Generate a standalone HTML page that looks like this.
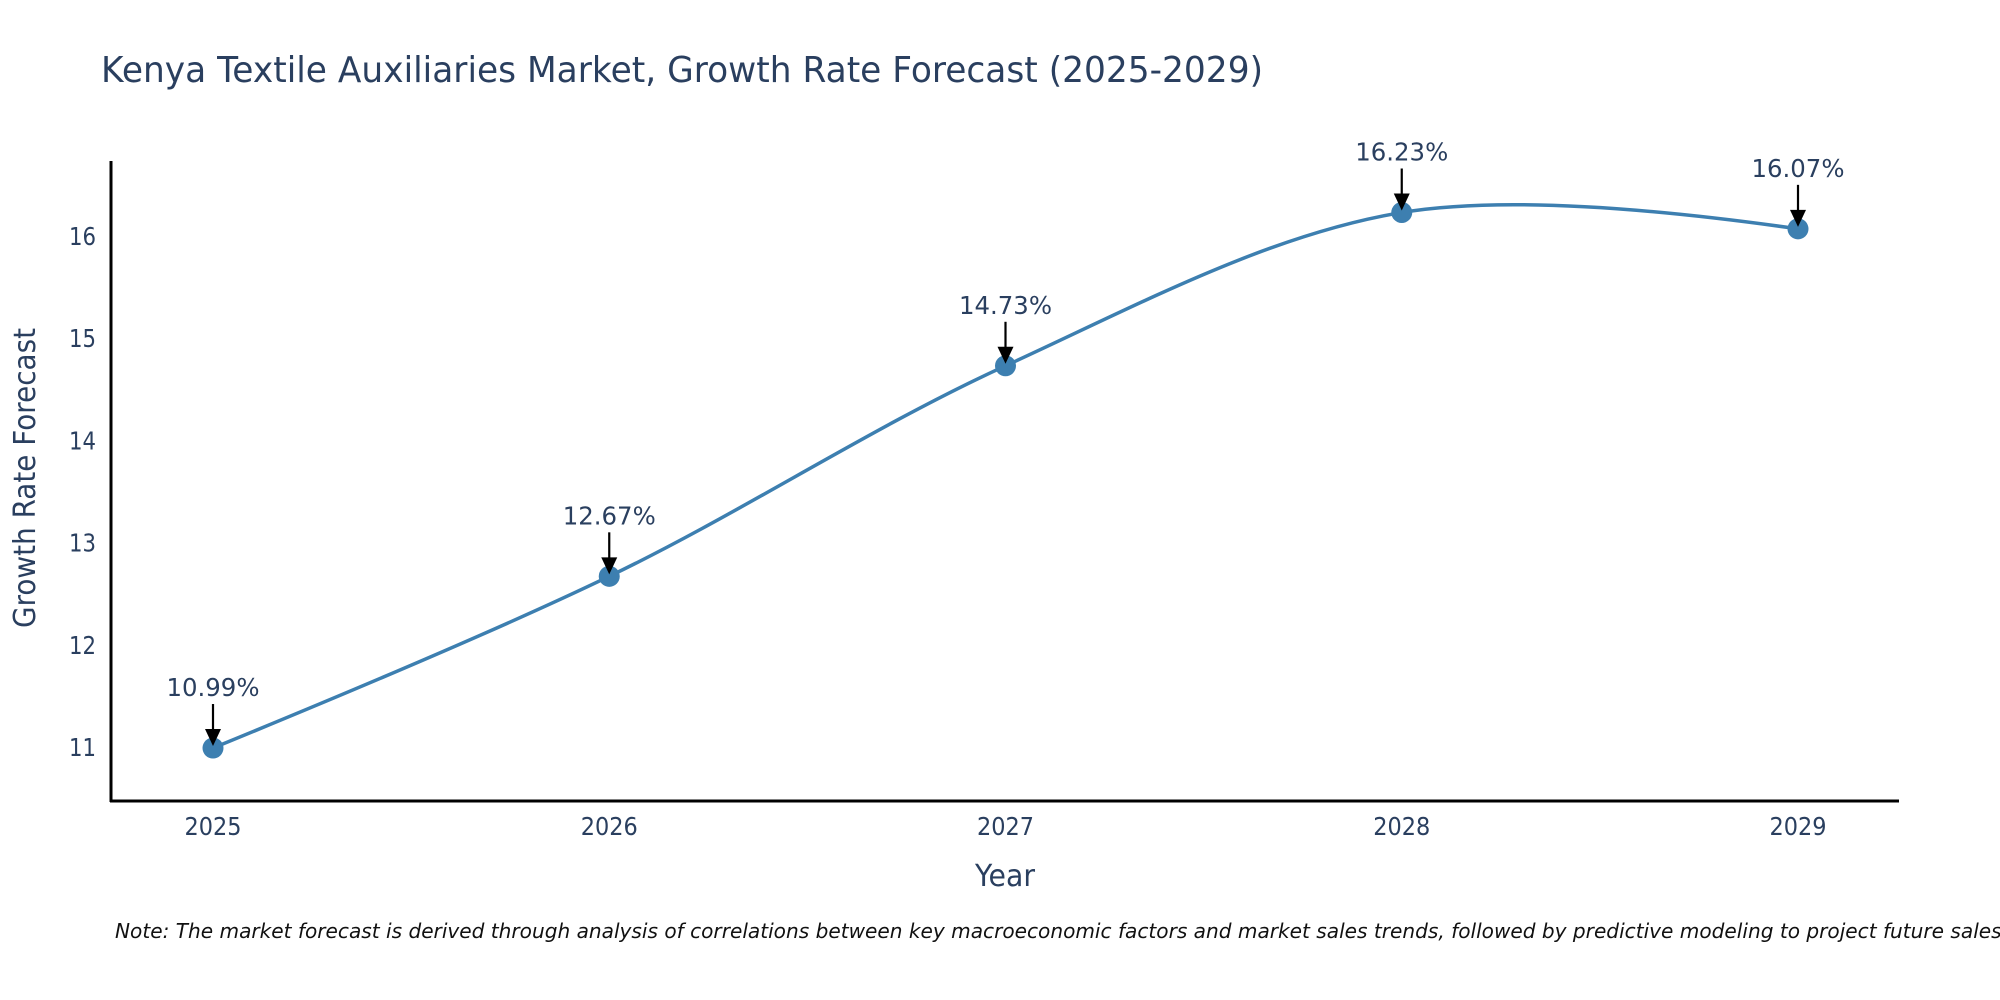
<!DOCTYPE html>
<html><head><meta charset="utf-8"><style>
html,body{margin:0;padding:0;background:#fff;}
svg{display:block;}
</style></head><body>
<svg id="chart" width="2000" height="1000" xmlns="http://www.w3.org/2000/svg">
<rect width="2000" height="1000" fill="#fff"/>
<text x="101" y="82" font-family="DejaVu Sans, sans-serif" font-size="36" fill="#2a3f5f" textLength="1162" lengthAdjust="spacingAndGlyphs">Kenya Textile Auxiliaries Market, Growth Rate Forecast (2025-2029)</text>
<g id="yticks"></g>
<g id="xticks"></g>
<line x1="111" y1="161" x2="111" y2="802" stroke="#000" stroke-width="3"/>
<line x1="110" y1="801" x2="1899" y2="801" stroke="#000" stroke-width="3"/>
<text transform="translate(35,478) rotate(-90)" text-anchor="middle" font-family="DejaVu Sans, sans-serif" font-size="30" fill="#2a3f5f" textLength="300" lengthAdjust="spacingAndGlyphs">Growth Rate Forecast</text>
<text x="1005" y="886" text-anchor="middle" font-family="DejaVu Sans, sans-serif" font-size="30" fill="#2a3f5f" textLength="60" lengthAdjust="spacingAndGlyphs">Year</text>
<path id="line" fill="none" stroke="#3d7fb0" stroke-width="3.5"/>
<g id="marks"></g>
<text x="115" y="938" font-family="DejaVu Sans, sans-serif" font-style="italic" font-size="20" fill="#111" textLength="1893" lengthAdjust="spacingAndGlyphs">Note: The market forecast is derived through analysis of correlations between key macroeconomic factors and market sales trends, followed by predictive modeling to project future sales.</text>
</svg>
<script>
const years = [2025, 2026, 2027, 2028, 2029];
const values = [10.99, 12.67, 14.73, 16.23, 16.07];
const labels = ["10.99%", "12.67%", "14.73%", "16.23%", "16.07%"];
const yTicks = [11, 12, 13, 14, 15, 16];

const NS = "http://www.w3.org/2000/svg";
const xScale = y => 213 + (y - 2025) * 396.25;
const yScale = v => 747 - (v - 11) * 102.2;
function mk(tag, attrs, parent) {
  const e = document.createElementNS(NS, tag);
  for (const k in attrs) e.setAttribute(k, attrs[k]);
  parent.appendChild(e);
  return e;
}
const yt = document.getElementById('yticks');
yTicks.forEach(t => {
  const e = mk('text', {x: 96, y: yScale(t) + 9, 'text-anchor': 'end', 'font-family': 'DejaVu Sans, sans-serif', 'font-size': 25, fill: '#2a3f5f', textLength: 27, lengthAdjust: 'spacingAndGlyphs'}, yt);
  
  
  e.textContent = t;
});
const xt = document.getElementById('xticks');
years.forEach(y => {
  const e = mk('text', {x: xScale(y), y: 835, 'text-anchor': 'middle', 'font-family': 'DejaVu Sans, sans-serif', 'font-size': 25, fill: '#2a3f5f', textLength: 57, lengthAdjust: 'spacingAndGlyphs'}, xt);
  
  
  e.textContent = y;
});
const pts = years.map((y, i) => [xScale(y), yScale(values[i])]);
function tangent(p0, p1, p2, s) {
  const d1x = p0[0]-p1[0], d1y = p0[1]-p1[1], d2x = p2[0]-p1[0], d2y = p2[1]-p1[1];
  const d1a = Math.pow(d1x*d1x+d1y*d1y, 0.25), d2a = Math.pow(d2x*d2x+d2y*d2y, 0.25);
  const nx = (d2a*d2a*d1x - d1a*d1a*d2x)*s, ny = (d2a*d2a*d1y - d1a*d1a*d2y)*s;
  const den1 = 3*d2a*(d1a+d2a), den2 = 3*d1a*(d1a+d2a);
  return [[p1[0]+nx/den1, p1[1]+ny/den1], [p1[0]-nx/den2, p1[1]-ny/den2]];
}
const tg = [];
for (let i = 1; i < pts.length - 1; i++) tg.push(tangent(pts[i-1], pts[i], pts[i+1], 1));
let d = 'M' + pts[0] + 'Q' + tg[0][0] + ' ' + pts[1];
for (let i = 2; i < pts.length - 1; i++) d += 'C' + tg[i-2][1] + ' ' + tg[i-1][0] + ' ' + pts[i];
d += 'Q' + tg[tg.length-1][1] + ' ' + pts[pts.length-1];
document.getElementById('line').setAttribute('d', d);

const mg = document.getElementById('marks');
pts.forEach((p, i) => {
  const c = mk('circle', {cx: p[0], cy: p[1], r: 10.5, fill: '#3d7fb0'}, mg);
  
  
  const l = mk('line', {x1: p[0], y1: p[1]-44, x2: p[0], y2: p[1]-16, stroke: '#000', 'stroke-width': 2.2}, mg);
  
  
  const h = mk('polygon', {points: `${p[0]-8},${p[1]-19} ${p[0]+8},${p[1]-19} ${p[0]},${p[1]-2}`, fill: '#000'}, mg);
  
  
  const t = mk('text', {x: p[0], y: p[1]-52, 'text-anchor': 'middle', 'font-family': 'DejaVu Sans, sans-serif', 'font-size': 25, fill: '#2a3f5f', textLength: 93, lengthAdjust: 'spacingAndGlyphs'}, mg);
  
  
  t.textContent = labels[i];
});
</script>
</body></html>
